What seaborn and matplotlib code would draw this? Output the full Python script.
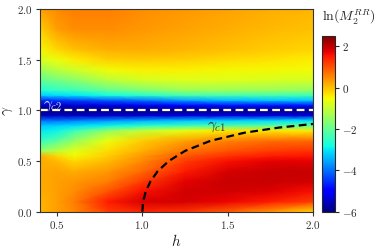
import numpy as np
import matplotlib
matplotlib.use("Agg")
import matplotlib.pyplot as plt
import seaborn as sns
from matplotlib.ticker import FuncFormatter

# ---- data ----
h_vals = [0.4, 0.5, 0.6, 0.8, 1.0, 1.25, 1.5, 1.75, 2.0]
gamma_vals = [0.0, 0.1, 0.2, 0.3, 0.4, 0.5, 0.55, 0.6, 0.7, 0.8, 0.85, 0.9,
              0.95, 1.0, 1.05, 1.1, 1.15, 1.2, 1.3, 1.4, 1.5, 1.6, 1.8, 2.0]
lnM = [
    [0.1, 0.3, 0.5, 1.2, 1.4, 1.3, 0.9, 0.4, -0.2],          # 0.0
    [0.1, 0.3, 0.6, 1.5, 1.85, 1.85, 1.7, 1.5, 1.2],          # 0.1
    [0.15, 0.3, 0.45, 1.0, 1.6, 1.9, 1.9, 1.8, 1.6],          # 0.2
    [0.2, 0.3, 0.35, 0.6, 1.2, 1.75, 1.95, 1.95, 1.9],        # 0.3
    [0.2, 0.25, 0.15, 0.35, 0.8, 1.5, 1.85, 1.95, 1.95],      # 0.4
    [0.2, 0.05, -0.2, 0.05, 0.5, 1.2, 1.6, 1.75, 1.75],       # 0.5
    [0.2, -0.2, -0.5, -0.1, 0.35, 0.95, 1.3, 1.5, 1.55],      # 0.55
    [-1.5, -1.1, -0.7, -0.25, 0.15, 0.7, 1.0, 1.2, 1.3],      # 0.6
    [-2.5, -2.1, -1.5, -0.6, -0.1, 0.3, 0.55, 0.75, 0.8],     # 0.7
    [-3.0, -2.9, -2.4, -1.5, -1.0, -0.6, -0.35, -0.35, -0.4], # 0.8
    [-3.3, -3.2, -3.1, -2.9, -2.6, -2.4, -2.2, -2.1, -2.0],   # 0.85
    [-4.0, -4.0, -3.9, -3.7, -3.5, -3.3, -3.2, -3.1, -3.0],   # 0.9
    [-5.5, -5.5, -5.5, -5.4, -5.4, -5.3, -5.3, -5.3, -5.3],   # 0.95
    [-6.0, -6.0, -6.0, -6.0, -6.0, -6.0, -6.0, -6.0, -6.0],   # 1.0
    [-5.5, -5.5, -5.4, -5.3, -5.2, -4.9, -4.8, -4.8, -4.8],   # 1.05
    [-4.6, -4.5, -4.4, -4.2, -4.0, -3.6, -3.4, -3.3, -3.3],   # 1.1
    [-3.2, -3.1, -3.0, -2.8, -2.6, -2.3, -2.3, -2.3, -2.4],   # 1.15
    [-2.7, -2.5, -2.4, -2.0, -1.7, -1.4, -1.4, -1.45, -1.5],  # 1.2
    [-2.0, -1.8, -1.6, -1.1, -0.85, -0.75, -0.75, -0.8, -0.85], # 1.3
    [-1.4, -1.1, -0.9, -0.55, -0.45, -0.45, -0.5, -0.5, -0.55], # 1.4
    [-0.8, -0.6, -0.4, -0.15, -0.1, -0.15, -0.25, -0.3, -0.4],  # 1.5
    [-0.5, -0.2, 0.0, 0.15, 0.15, 0.1, 0.0, -0.1, -0.2],      # 1.6
    [-0.15, 0.3, 0.45, 0.45, 0.35, 0.25, 0.15, 0.05, 0.0],    # 1.8
    [0.3, 0.5, 0.6, 0.6, 0.45, 0.35, 0.25, 0.15, 0.1],        # 2.0
]
# critical line gamma_c1
c1_h = [1.0, 1.005, 1.02, 1.048, 1.09, 1.155, 1.25, 1.4, 1.6, 1.8, 2.0]
c1_g = [0.0, 0.1, 0.2, 0.3, 0.4, 0.5, 0.6, 0.7, 0.78, 0.83, 0.866]
c2_h = [0.4, 2.0]
c2_g = [1.0, 1.0]
cbar_ticks = [-6, -4, -2, 0, 2]

sns.set_theme(style="ticks")
plt.rcParams["mathtext.fontset"] = "cm"
plt.rcParams["font.family"] = ["DejaVu Serif"]

fig = plt.figure(figsize=(3.77, 2.5), dpi=100)
ax = fig.add_axes([0.106, 0.153, 0.724, 0.811])
cax = fig.add_axes([0.853, 0.153, 0.036, 0.703])

H, G = np.meshgrid(np.array(h_vals), np.array(gamma_vals))
mesh = ax.pcolormesh(H, G, np.array(lnM), cmap="jet", vmin=-6, vmax=2.5,
                     shading="gouraud", rasterized=True)

sns.lineplot(x=c2_h, y=c2_g, ax=ax, color="white", lw=1.6,
             linestyle=(0, (3.5, 2)), legend=False)
sns.lineplot(x=c1_h, y=c1_g, ax=ax, color="black", lw=1.6,
             linestyle=(0, (3.5, 2)), legend=False, sort=False)

ax.text(0.415, 1.03, r"$\gamma_{c2}$", color="#e0e0f5", fontsize=11)
ax.text(1.38, 0.82, r"$\gamma_{c1}$", color="#333333", fontsize=11)

ax.set_xlim(0.4, 2.0)
ax.set_ylim(0.0, 2.0)
ax.set_xticks([0.5, 1.0, 1.5, 2.0])
ax.set_yticks([0.0, 0.5, 1.0, 1.5, 2.0])
fmt = FuncFormatter(lambda v, p: f"${v:.1f}$")
ax.xaxis.set_major_formatter(fmt)
ax.yaxis.set_major_formatter(fmt)
ax.tick_params(labelsize=8, length=3, width=0.8, pad=2, colors="#333333")
ax.set_xlabel(r"$h$", fontsize=11, labelpad=2)
ax.set_ylabel(r"$\gamma$", fontsize=11, labelpad=2)
for s in ax.spines.values():
    s.set_linewidth(0.8)
    s.set_color("#333333")

cb = fig.colorbar(mesh, cax=cax, ticks=cbar_ticks)
cb.ax.yaxis.set_major_formatter(FuncFormatter(lambda v, p: f"${int(v)}$"))
cb.ax.tick_params(labelsize=8, length=3, width=0.8, pad=2)
cb.outline.set_linewidth(0.8)
fig.text(0.925, 0.932, r"$\ln(M_2^{RR})$", fontsize=10, ha="center", va="center")

fig.savefig("out.png", dpi=100)
